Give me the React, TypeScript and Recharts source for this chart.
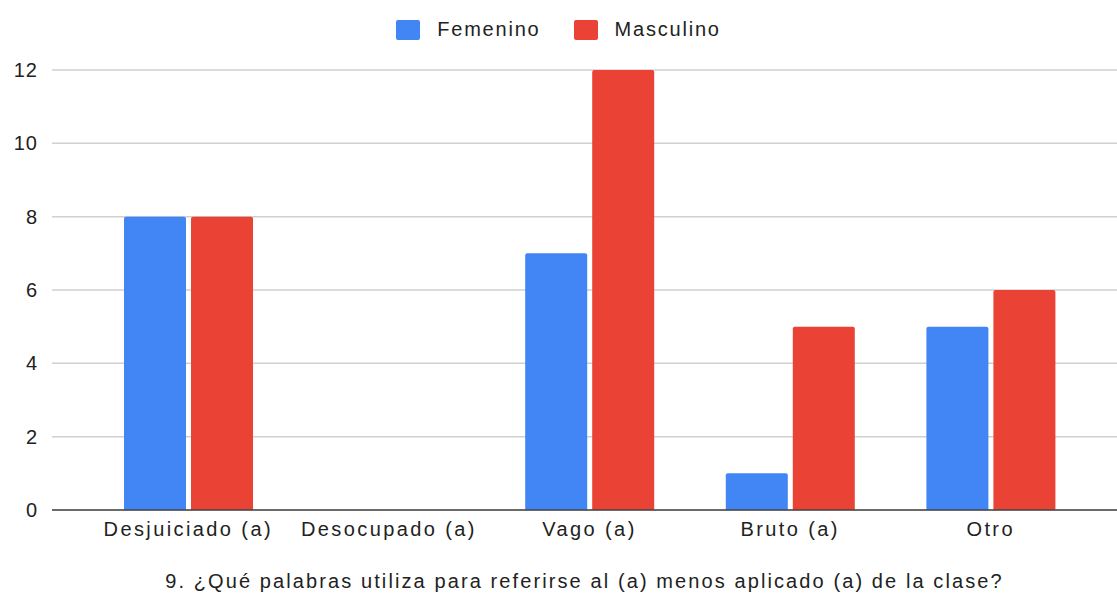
import { BarChart, Bar, XAxis, YAxis, CartesianGrid, Legend } from 'recharts';

const categories = ['Desjuiciado (a)', 'Desocupado (a)', 'Vago (a)', 'Bruto (a)', 'Otro'];
const femenino = [8, 0, 7, 1, 5];
const masculino = [8, 0, 12, 5, 6];
const yTicks = [0, 2, 4, 6, 8, 10, 12];
const title = '9. ¿Qué palabras utiliza para referirse al (a) menos aplicado (a)  de la clase?';

const data = categories.map((name, i) => ({
    name,
    Femenino: femenino[i],
    Masculino: masculino[i],
}));

const font = '"Liberation Sans", Arial, sans-serif';

const series = [
    { key: 'Femenino', color: '#4285F4' },
    { key: 'Masculino', color: '#EA4335' },
];

function LegendBox() {
    return (
        <div style={{ display: 'flex', justifyContent: 'center', alignItems: 'center', fontFamily: font, fontSize: 20, letterSpacing: 1.8, color: '#222' }}>
            {series.map((s, i) => (
                <div key={s.key} style={{ display: 'flex', alignItems: 'center', marginLeft: i ? 33 : 0 }}>
                    <span style={{ width: 24, height: 20, background: s.color, borderRadius: 2, marginRight: 17, display: 'inline-block' }} />
                    <span>{s.key}</span>
                </div>
            ))}
        </div>
    );
}

export default function App() {
    return (
        <div style={{ position: 'absolute', top: 0, left: 0, background: '#fff' }}>
            <BarChart
                width={1117}
                height={594}
                data={data}
                margin={{ top: 47, right: 0, left: 0, bottom: 0 }}
                barSize={62}
                barGap={5}
            >
                <CartesianGrid vertical={false} stroke="#d0d0d0" strokeWidth={1.5} />
                <XAxis
                    dataKey="name"
                    height={84}
                    padding={{ left: 36, right: 26 }}
                    tickLine={false}
                    axisLine={{ stroke: '#444', strokeWidth: 1.5 }}
                    tickSize={6}
                    tickMargin={6}
                    interval={0}
                    tick={{ fill: '#222', fontSize: 20, fontFamily: font, letterSpacing: 2.4 }}
                    label={{
                        value: title,
                        position: 'insideBottom',
                        offset: 6,
                        fill: '#222',
                        fontSize: 20,
                        fontFamily: font,
                        letterSpacing: 2.1,
                        style: { whiteSpace: 'pre' },
                    }}
                />
                <YAxis
                    width={52}
                    domain={[0, 12]}
                    ticks={yTicks}
                    tickLine={false}
                    axisLine={false}
                    tickSize={6}
                    tickMargin={8}
                    tick={{ fill: '#222', fontSize: 20, fontFamily: font, letterSpacing: 1 }}
                />
                <Legend
                    verticalAlign="top"
                    content={() => <LegendBox />}
                    wrapperStyle={{ top: 18 }}
                />
                {series.map((s) => (
                    <Bar key={s.key} dataKey={s.key} fill={s.color} radius={[2, 2, 0, 0]} isAnimationActive={false} />
                ))}
            </BarChart>
        </div>
    );
}
